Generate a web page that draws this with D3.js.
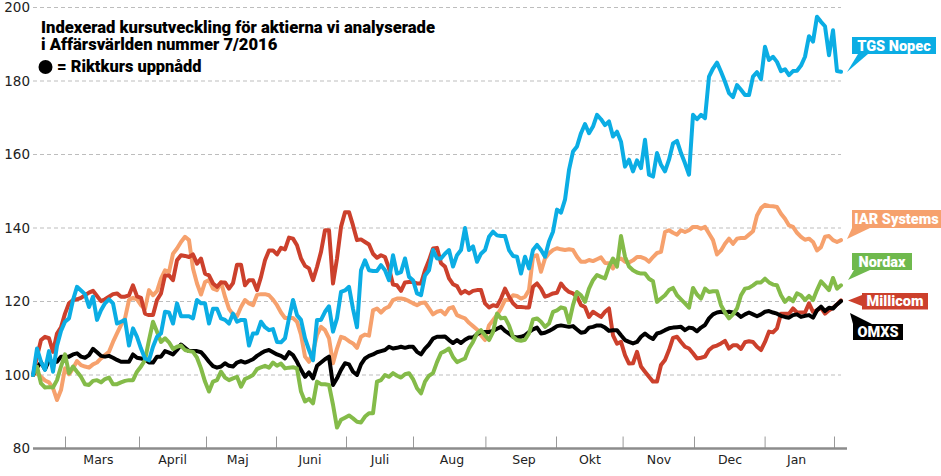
<!DOCTYPE html>
<html>
<head>
<meta charset="utf-8">
<script src="https://cdn.jsdelivr.net/npm/d3@7"></script>
<style>
body { margin: 0; background: #fff; }
svg { display: block; }
</style>
</head>
<body>
<script>
// values, one sample per x step
const tgs = [100,107.2,103.6,101.4,106.5,100.9,108,112,114.5,115.4,120.4,124,123,122,118.5,121.3,115,117.6,119.5,120.6,119.5,114,114.5,115,108,112.7,110.4,107.2,104.5,104,107.7,110.4,111.3,117.2,117,114,119.5,116,116,116,115.4,120.4,119.5,119.5,114,118,118,115.4,115,114,116.7,114.5,115,115,108,111.3,111.3,114.5,113,112.2,112.5,109,108.9,110,115.4,120.4,116.3,115,110,106.8,104,115,115,117.2,118.7,111.8,115.4,122.6,123,124,118,113,128.5,131.2,128.5,128.3,128.3,129.9,128.5,125.8,132.6,127.6,128,131.7,126.7,125.8,122.2,121.7,127.1,128.5,134,131.7,131.7,133,134,129.5,132.6,134,140,134,135,130.8,133,134,137.6,139,138,137.8,137.8,134,132.4,132.2,127.6,132.2,129,134,135.4,134,132.2,136.3,139,145,144.2,147.7,155.8,160.8,162.2,165.8,168.3,165.8,167.6,170.8,169.6,168,169,164.9,166.2,163.5,156.7,158.6,155.4,158.4,156.3,164,154.5,154,160.4,157.2,155.4,158.6,163,163.7,160.4,157.6,154.5,170.8,169.6,170.8,169.9,181.2,183.4,185,182.5,179.8,176.7,175.6,178.9,177.6,176.2,176.2,181.2,182.4,180.5,189.3,185.7,186.6,185.2,182.7,183.2,181.6,182.7,182.8,184.2,186.6,192.2,190.7,197.5,196.1,194.9,187,193.8,182.7,182.5];
const iar = [100,100.5,99.5,98.5,98,96.4,93.2,95.9,101.8,100.2,101.8,103.8,102.7,102.3,102,102.9,103.4,104.5,105.4,106.3,109,111.3,113.6,115.4,120.4,121,120.6,119,118,123.1,121.7,122.8,126.2,128.5,128,133,134.4,136.2,137.6,136.7,129,124.9,121.9,125.3,125.8,123.5,123.1,125.3,121.3,118,116.5,116,118.5,120.4,119.5,119,121.8,122,122,121.7,120.5,119,117,115.5,115.5,115.5,114.5,111,105,103.6,106.3,110.9,113.1,112.2,110,103.2,107.2,110.4,110,109.2,108.6,107.4,110.4,111,110.7,117.6,118.1,117,118.1,118.6,120.4,120.8,120.8,120.6,120.1,119.5,119,119.6,119.7,118.1,116.5,117.2,117.5,116.5,118.1,118.5,116.3,115.8,115.4,114.2,113.3,112.4,110.8,109.5,113.5,114.9,116.3,118.1,120.4,120.4,121.7,121.5,120.8,121.3,123.1,132.2,132.6,128.1,131.7,133.1,134,134.5,134.2,134,134.2,134,132.2,130.8,130.8,131.3,131,131.5,132,130.5,130.4,129,131.3,131.7,130.8,130.6,131.2,132.1,132.1,131.7,130.8,132.1,133.2,133.5,138.9,139.4,138.7,138.2,139.4,138.9,139.4,140.3,140.3,139.8,140.3,138.5,136.7,132.8,133.9,135.7,137.1,135.7,137.1,137.3,137.3,138.2,139.1,143.4,145.4,146.3,146,145.9,145.7,143.9,142.5,140.7,140.3,138.7,137.6,136.8,137.1,136.2,133.9,134.8,137.6,137.8,136.7,136.2,136.7];
const nordax = [100,102.3,97.7,96.6,96.7,96.6,98.6,102.3,105.6,100.5,102.3,100.9,99.5,97.5,97.3,98.4,98.6,98,98.9,99.3,97.5,97.5,98,98.4,98.6,98.6,100.9,102.3,104.1,109.5,114.5,111.8,109,110,108.9,107.1,107.7,108,106.8,106.5,106.3,104.7,101.8,98.2,95.5,98.2,98.6,100.9,99.3,98.6,99.1,99.5,96.8,98.9,99.4,100,101.6,102.1,102.5,102,103.4,102.5,103.1,101.8,102,102.1,101.8,95.5,92.8,93.5,92.3,98.2,97.5,97.5,97.3,91.9,85.7,87.8,88.4,89,88.2,87.3,87.1,88.7,89.6,89.6,98.2,98.6,100,99.5,100.5,99.8,99.3,100.2,100.5,98.9,96.4,95,98.2,99.8,100.5,103.5,106,106.5,107.2,104.9,103.5,104,104.5,107.2,109,111.3,112.2,110.8,109.5,111.7,116.7,115.4,115.6,113.5,110.4,109.5,109.3,109.6,111.3,115.1,115.4,114.5,113.1,114,117.2,117.6,118.4,118.1,114.2,119,122.6,121.7,119.9,123.5,125.8,127.2,126.7,126.3,129.5,131.7,129.5,137.8,132.2,129.5,128.5,127.9,127.6,127.6,126.2,125.5,119.9,120.8,121.7,123.1,123.7,121.7,120.6,119.5,118.3,123.7,121.9,120.8,123.5,122.6,122.8,122.8,119,117,115.4,116.5,118.1,121.7,123.5,123.7,124.4,125.2,125.2,126.2,125.2,124.6,124.4,121.7,119.9,121,120.1,122.2,121.7,120.4,121.5,120.4,123.1,125.5,124.3,123.1,126.4,123.5,124.4];
const millicom = [100,105,109.5,110.4,110,106.3,111.3,113,116.7,119.5,120.4,120.6,121,121.7,122.4,122.9,121.5,120.1,120.6,121.3,122,122.2,121.3,121.3,121.7,124.4,121.4,121,116.7,116.3,116.3,120.4,122.2,127.1,127.1,125.8,131.2,132.6,132.4,132.1,132.8,130.3,131.7,127.6,127.1,124.9,124,125.2,125.2,123.5,125,130,130,124.4,125.8,125.8,123.1,126.7,131.2,133.9,133.9,132.8,134.6,134.2,137.4,137.1,135.3,131.7,129.7,129,125.8,129.4,133.5,139.4,139.4,124.9,131.7,140.3,144.3,144.3,140.7,136.7,136.9,136.2,135.5,133,131.9,132.6,132.1,129,124.6,124.4,122.9,125.2,125.3,125.3,124.9,124.9,128.5,131.2,134.4,134.6,130.4,129.5,126.3,124.7,124.2,122.2,122.9,122.2,122.9,123.1,123.1,119.5,118.4,119,118.7,120.8,123.5,121.3,119.5,118.5,118.5,118.4,118.4,124,124.9,123.5,121.3,121.7,122.2,122.4,124.9,123.5,122.6,122.2,121.3,119,118.5,115.8,117.2,116.5,115.8,117.2,118.1,110.8,108.5,109,105.4,103.1,103.2,106.3,102.3,100.9,99.5,98.2,98.2,102.7,104.1,106.8,110.1,110.4,109,107.7,107.2,105.9,104.5,104.7,105,106.8,107.7,108,108.6,109.3,107.2,108.1,108.1,107.1,108.9,109.2,109,107.7,106.8,109,111.8,111.6,112.7,116.7,116.7,116.7,118.1,117,117,117,119.5,117.2,117.6,118.3,116.7,117.6,118.3,119.2,120.3];
const omxs = [100,102,103.5,101.5,104,103.5,103.6,105,105,105,105.6,105.9,105,104.7,105.4,107.1,106.2,105.2,105,105.2,104.7,104.1,103.6,103.6,103.6,105.6,104.7,104.5,104.3,103.4,103.4,105,105,106.5,106.1,105.6,106.8,108.3,107.4,106.5,106.5,106.5,106.2,105,103.6,102.4,102,102.3,103.2,102.5,102.3,103.4,103.8,103.4,103.8,104.3,105.2,105.9,106.5,106.8,106.2,105.6,105.2,104.5,106.2,105.4,103.6,101.4,99.5,100.7,99.1,102.5,103.4,104.3,105,97.3,99.1,101.4,103.2,102.9,100.9,100,102.9,104.5,105.2,105.6,106.2,106.5,106.8,107.7,107.2,107.4,107.7,107.4,107.7,107.7,106.3,105.6,107.2,108.3,109.9,110.4,110.4,110.5,109.5,108.7,109.5,108.7,109.6,110.2,110.2,111.1,111.7,111.7,111.7,112,112.6,113.1,112,111.3,110.4,110.2,110.4,110.8,111.7,112.4,112.9,111.3,111.5,112,112.6,113.3,113.5,113.3,113.1,113.3,112.4,111.5,111.7,112.9,113.1,113.5,113.5,112.9,112,112.2,112.2,110.8,109.5,109,108.6,109,110.4,111.3,110.4,109.8,111.3,111.6,112.2,112.7,112.9,113,113.1,112.2,112.9,112.7,111.9,112.9,113.6,115.4,116.5,117,117.2,117,117.2,117,116.7,115.8,116.5,117,116.5,116,116.5,117.2,117.4,117,116.7,116.1,115.8,115.6,116.3,116.5,115.8,116.1,116.3,115.6,117.6,118.6,117.4,118.3,118.1,119.2,120.1];

const yTicks = [80,100,120,140,160,180,200];
const months = ['Mars','April','Maj','Juni','Juli','Aug','Sep','Okt','Nov','Dec','Jan'];
const monthLabelAt = [16.35,34.9,51.2,69.25,86.75,104.75,122.75,139.25,156.5,174.25,190.9];
const monthStarts = [8,26.5,43.25,60.75,78.25,95,113.1,130.75,147.4,165.25,182.9,200.25];
const titleLines = ['Indexerad kursutveckling för aktierna vi analyserade','i Affärsvärlden nummer 7/2016'];

const series = [
  {name:'IAR Systems', values:iar, color:'#f6a16d'},
  {name:'Millicom', values:millicom, color:'#cc402c'},
  {name:'OMXS', values:omxs, color:'#000'},
  {name:'Nordax', values:nordax, color:'#84bb49'},
  {name:'TGS Nopec', values:tgs, color:'#0bade4'}
];

const labels = [
  {text:'TGS Nopec', fill:'#0bade4', x:852, y:37, w:84, h:17, tail:[[858,54],[868,54],[847,72]]},
  {text:'IAR Systems', fill:'#f6a16d', x:852, y:210, w:89, h:18, tail:[[852,228],[870,228],[847,239]]},
  {text:'Nordax', fill:'#6fb94d', x:852, y:253, w:60, h:17, tail:[[854,270],[870,270],[848,280]]},
  {text:'Millicom', fill:'#cc402c', x:862, y:293, w:66, h:16.5, tail:[[862,295],[862,306],[848,300.5]]},
  {text:'OMXS', fill:'#000', x:853, y:324, w:50, h:16, tail:[[853,324],[872,324],[850,313]]}
];

const width = 941, height = 476;
const svg = d3.select('body').append('svg')
  .attr('width', width)
  .attr('height', height);

const x = d3.scaleLinear().domain([0, tgs.length - 1]).range([33, 841]);
const y = d3.scaleLinear().domain([80, 200]).range([448.5, 7.5]);

// y axis with dashed gridlines
const yAxis = svg.append('g')
  .attr('transform', 'translate(33,0)')
  .call(d3.axisLeft(y).tickValues(yTicks).tickSize(0).tickPadding(3));
yAxis.select('.domain').remove();
yAxis.selectAll('text')
  .attr('font-family', 'DejaVu Sans')
  .attr('font-size', 13.5)
  .attr('fill', '#222');

svg.append('g').selectAll('line')
  .data(yTicks.filter(d => d > 80))
  .join('line')
  .attr('x1', 33).attr('x2', 841)
  .attr('y1', d => y(d)).attr('y2', d => y(d))
  .attr('stroke', '#bdbdbd')
  .attr('stroke-dasharray', '4 3');

// month axis
const xAxis = svg.append('g')
  .attr('transform', `translate(0,${y(80)})`)
  .call(d3.axisTop(x).tickValues(monthStarts).tickSize(12).tickFormat(''));
xAxis.select('.domain').remove();
xAxis.selectAll('line').attr('stroke', '#999').attr('stroke-width', 1);

svg.append('line')
  .attr('x1', 33).attr('x2', 847)
  .attr('y1', y(80)).attr('y2', y(80))
  .attr('stroke', '#8c8c8c')
  .attr('stroke-width', 2.5);

svg.append('g').selectAll('text')
  .data(months)
  .join('text')
  .attr('x', (d, i) => x(monthLabelAt[i]))
  .attr('y', 464)
  .attr('text-anchor', 'middle')
  .attr('font-family', 'DejaVu Sans')
  .attr('font-size', 12.5)
  .attr('fill', '#222')
  .text(d => d);

// lines
const line = d3.line()
  .x((d, i) => x(i))
  .y(d => y(d));

svg.append('g').selectAll('path')
  .data(series)
  .join('path')
  .attr('d', d => line(d.values))
  .attr('fill', 'none')
  .attr('stroke', d => d.color)
  .attr('stroke-width', 4)
  .attr('stroke-linejoin', 'round')
  .attr('stroke-linecap', 'round');

// title and legend
svg.append('g').selectAll('text')
  .data(titleLines)
  .join('text')
  .attr('x', 41)
  .attr('y', (d, i) => 33 + i * 17)
  .attr('font-family', 'Roboto')
  .attr('font-weight', 900)
  .attr('font-size', 16.6)
  .attr('fill', '#000')
  .text(d => d);

svg.append('circle')
  .attr('cx', 45.5).attr('cy', 67).attr('r', 7)
  .attr('fill', '#000');

svg.append('text')
  .attr('x', 57).attr('y', 71.5)
  .attr('font-family', 'Roboto')
  .attr('font-weight', 900)
  .attr('font-size', 16.4)
  .text('= Riktkurs uppnådd');

// end labels
const tag = svg.append('g').selectAll('g')
  .data(labels)
  .join('g');

tag.append('rect')
  .attr('x', d => d.x).attr('y', d => d.y)
  .attr('width', d => d.w).attr('height', d => d.h)
  .attr('fill', d => d.fill);

tag.append('path')
  .attr('d', d => d3.line()(d.tail) + 'Z')
  .attr('fill', d => d.fill);

tag.append('text')
  .attr('x', d => d.x + d.w / 2)
  .attr('y', d => d.y + d.h / 2 + 5)
  .attr('text-anchor', 'middle')
  .attr('font-family', 'Roboto')
  .attr('font-weight', 900)
  .attr('font-size', 14.5)
  .attr('fill', '#fff')
  .text(d => d.text);
</script>
</body>
</html>
